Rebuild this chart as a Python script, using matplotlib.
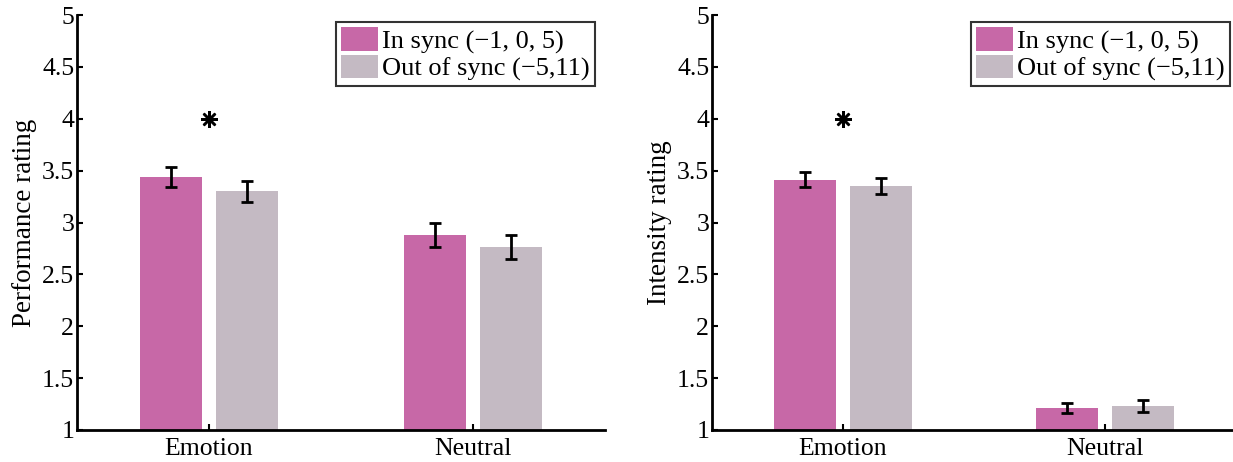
import numpy as np
import matplotlib
matplotlib.use("Agg")
import matplotlib.pyplot as plt

plt.rcParams["font.family"] = ["Liberation Serif", "DejaVu Serif"]

categories = ["Emotion", "Neutral"]
series_labels = ["In sync (\u22121, 0, 5)", "Out of sync (\u22125,11)"]
colors = ["#C768A7", "#C4BAC3"]

perf_means = [[3.44, 2.88], [3.30, 2.76]]
perf_errs = [[0.095, 0.12], [0.10, 0.115]]
inten_means = [[3.41, 1.21], [3.35, 1.23]]
inten_errs = [[0.072, 0.05], [0.077, 0.06]]
ylabels = ["Performance rating", "Intensity rating"]
star_pos = [(1, 4.0), (1, 4.0)]

W, H = 1233, 462
fig = plt.figure(figsize=(W / 100, H / 100), dpi=100)

# axes boxes in pixels: left, bottom(y of value 1), right, top(y of value 5)
boxes = [(77, 430, 605, 15), (712, 430, 1236, 15)]
legend_anchor = [(595, 22), (1230, 22)]

x = np.arange(1, len(categories) + 1)
offsets = [-0.144, 0.144]
width = 0.235

for k, (means, errs) in enumerate([(perf_means, perf_errs), (inten_means, inten_errs)]):
    l, b, r, t = boxes[k]
    ax = fig.add_axes([l / W, (H - b) / H, (r - l) / W, (b - t) / H])
    for s in range(2):
        ax.bar(x + offsets[s], means[s], width, bottom=0, color=colors[s],
               label=series_labels[s], zorder=2)
        ax.errorbar(x + offsets[s], means[s], yerr=errs[s], fmt="none",
                    ecolor="black", elinewidth=2, capsize=4.5, capthick=2, zorder=3)
    sx, sy = star_pos[k]
    ax.plot([sx], [sy], marker=(8, 2, 0), markersize=12, markeredgewidth=1.8,
            color="black", linestyle="none", zorder=4)
    ax.set_xlim(0.5, 2.5)
    ax.set_ylim(1, 5)
    ax.set_yticks([1, 1.5, 2, 2.5, 3, 3.5, 4, 4.5, 5])
    ax.set_yticklabels(["1", "1.5", "2", "2.5", "3", "3.5", "4", "4.5", "5"])
    ax.set_xticks(x)
    ax.set_xticklabels(categories)
    ax.tick_params(axis="both", direction="in", labelsize=18.5, width=1.5, length=4)
    ax.tick_params(axis="y", pad=2)
    ax.tick_params(axis="x", pad=6)
    ax.spines["top"].set_visible(False)
    ax.spines["right"].set_visible(False)
    ax.spines["left"].set_linewidth(2)
    ax.spines["bottom"].set_linewidth(2)
    ax.set_ylabel(ylabels[k], fontsize=19.5, labelpad=4)
    ax.patch.set_alpha(0)
    lx, ly = legend_anchor[k]
    leg = ax.legend(loc="upper right", bbox_to_anchor=(lx / W, (H - ly) / H),
                    bbox_transform=fig.transFigure, fontsize=19, frameon=True,
                    fancybox=False, borderaxespad=0, borderpad=0.2,
                    handlelength=1.4, handleheight=1.0, handletextpad=0.15,
                    labelspacing=0.05)
    leg.get_frame().set_edgecolor("black")
    leg.get_frame().set_linewidth(1.5)

fig.savefig("out.png", dpi=100)
